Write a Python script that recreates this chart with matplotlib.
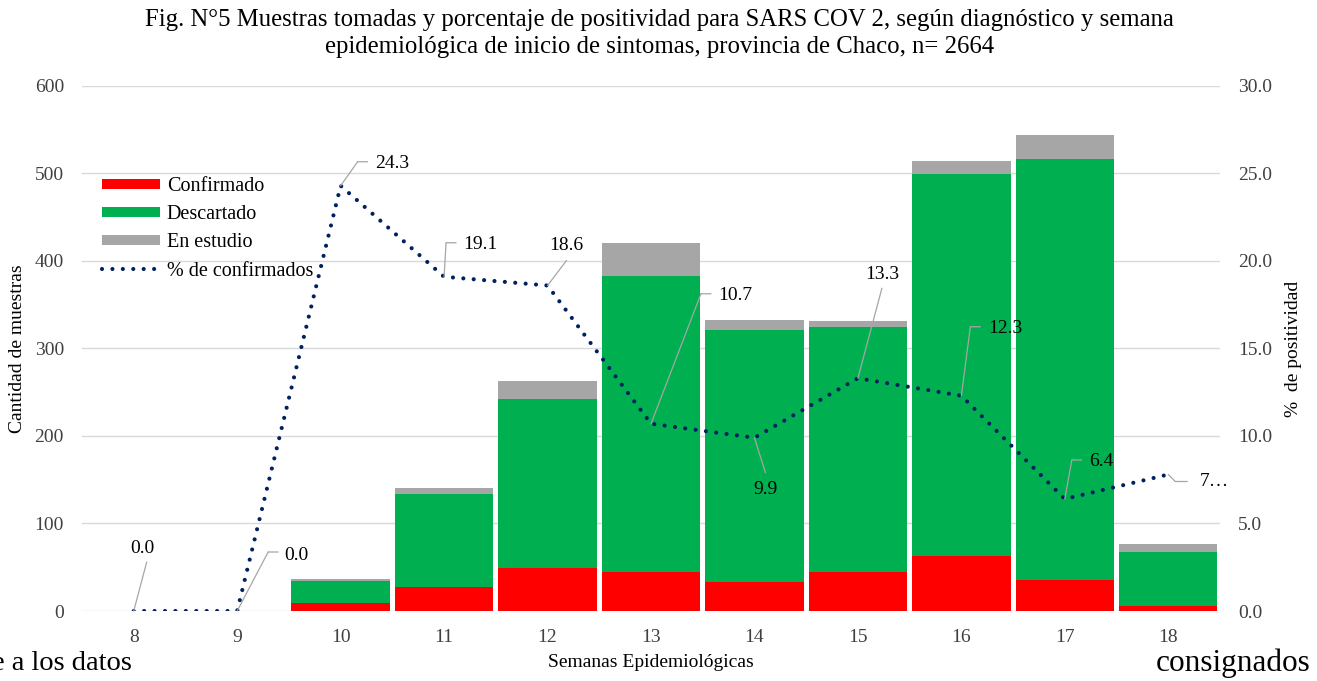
import matplotlib
matplotlib.use("Agg")
import matplotlib.pyplot as plt
from matplotlib.patches import Patch
from matplotlib.lines import Line2D
from matplotlib.transforms import offset_copy

plt.rcParams['font.family'] = ['Liberation Serif', 'DejaVu Serif']

# ---------------- data ----------------
weeks = [8, 9, 10, 11, 12, 13, 14, 15, 16, 17, 18]
week_labels = ["8", "9", "10", "11", "12", "13", "14", "15", "16", "17", "18"]
confirmado = [0, 0, 9, 27, 49, 45, 33, 44, 63, 35, 6]
descartado = [0, 0, 25, 107, 193, 338, 288, 280, 436, 482, 61]
en_estudio = [0, 0, 3, 7, 21, 38, 12, 7, 15, 27, 10]
pct_confirmados = [0.0, 0.0, 24.3, 19.1, 18.6, 10.7, 9.9, 13.3, 12.3, 6.4, 7.8]
pct_labels = ["0.0", "0.0", "24.3", "19.1", "18.6", "10.7", "9.9", "13.3", "12.3", "6.4", "7\u2026"]

left_ticks = [0, 100, 200, 300, 400, 500, 600]
right_ticks = [0, 5, 10, 15, 20, 25, 30]

# ---------------- styles ----------------
C_RED = "#FF0000"
C_GREEN = "#00B050"
C_GRAY = "#A6A6A6"
C_LINE = "#002060"
C_GRID = "#D9D9D9"
C_LEADER = "#A6A6A6"
FS = 14

# label layout (pixel offsets from the data point)
label_layout = [
    ('c', (13, 49), None, (9, 63)),
    ('h', (31, 59), (41, 59), (47, 56)),
    ('h', (17, 24), (27, 24), (34, 22)),
    ('h', (2, 34), (12, 34), (19, 32)),
    ('c', (19, 25), None, (19, 40)),
    ('h', (50, 130), (60, 130), (67, 128)),
    ('c', (11, -35), None, (11, -52)),
    ('c', (24, 90), None, (24, 104)),
    ('h', (9, 69), (19, 69), (27, 67)),
    ('h', (7, 39), (17, 39), (24, 37)),
    ('h', (7, -7), (19, -7), (31, -7)),
]

fig = plt.figure(figsize=(13.17, 6.81), dpi=100)
ax = fig.add_axes([0.06226, 0.10279, 0.86409, 0.77093])
ax2 = ax.twinx()

bw = 0.95
bottom2 = [c + d for c, d in zip(confirmado, descartado)]
ax.bar(weeks, confirmado, width=bw, color=C_RED, zorder=2, label="Confirmado")
ax.bar(weeks, descartado, width=bw, bottom=confirmado, color=C_GREEN, zorder=2, label="Descartado")
ax.bar(weeks, en_estudio, width=bw, bottom=bottom2, color=C_GRAY, zorder=2, label="En estudio")

ax.set_xlim(7.5, 18.5)
ax.set_ylim(0, 600)
ax.set_yticks(left_ticks)
ax.set_yticklabels([str(t) for t in left_ticks])
ax.set_xticks(weeks)
ax.set_xticklabels(week_labels)
ax.grid(axis='y', color=C_GRID, linewidth=1.0, zorder=0)
ax.set_axisbelow(True)
for s in ax.spines.values():
    s.set_visible(False)
for s in ax2.spines.values():
    s.set_visible(False)
ax.tick_params(axis='y', length=0, pad=13, labelsize=FS, colors='#404040')
ax.tick_params(axis='x', length=0, pad=13, labelsize=FS, colors='#404040')
ax.set_xlabel("Semanas Epidemiológicas", fontsize=FS, labelpad=6)
ax.set_ylabel("Cantidad de muestras", fontsize=FS)
ax.yaxis.set_label_coords(-0.0492, 0.5)

ax2.plot(weeks, pct_confirmados, color=C_LINE, linewidth=3.0,
         linestyle=(0, (0.001, 2.5)), dash_capstyle='round',
         solid_capstyle='round', zorder=5, label="% de confirmados")
ax2.set_ylim(0, 30)
ax2.set_yticks(right_ticks)
ax2.set_yticklabels([f"{t:.1f}" for t in right_ticks])
ax2.tick_params(axis='y', length=0, pad=13, labelsize=FS, colors='#404040')
ax2.set_ylabel("%  de positividad", fontsize=FS, rotation=90)
ax2.yaxis.set_label_coords(1.057, 0.5)

# data labels with leader lines
for w, v, txt, lay in zip(weeks, pct_confirmados, pct_labels, label_layout):
    kind, knee, hend, tpos = lay
    ax2.annotate('', xy=(w, v), xycoords='data', xytext=knee, textcoords='offset pixels',
                 arrowprops=dict(arrowstyle='-', color=C_LEADER, lw=0.9, shrinkA=0, shrinkB=0),
                 zorder=6, annotation_clip=False)
    if kind == 'h':
        tr = offset_copy(ax2.transData, fig=fig, x=hend[0], y=hend[1], units='dots')
        ax2.annotate('', xy=(w, v), xycoords=tr, xytext=(knee[0] - hend[0], 0),
                     textcoords='offset pixels',
                     arrowprops=dict(arrowstyle='-', color=C_LEADER, lw=0.9, shrinkA=0, shrinkB=0),
                     zorder=6, annotation_clip=False)
        ax2.annotate(txt, xy=(w, v), xycoords='data', xytext=tpos, textcoords='offset pixels',
                     ha='left', va='center', fontsize=FS, color='black', zorder=7,
                     annotation_clip=False)
    else:
        ax2.annotate(txt, xy=(w, v), xycoords='data', xytext=tpos, textcoords='offset pixels',
                     ha='center', va='center', fontsize=FS, color='black', zorder=7,
                     annotation_clip=False)

# legend
handles = [Patch(facecolor=C_RED, label="Confirmado"),
           Patch(facecolor=C_GREEN, label="Descartado"),
           Patch(facecolor=C_GRAY, label="En estudio"),
           Line2D([0], [0], color=C_LINE, linewidth=3.0, linestyle=(0, (0.001, 2.5)),
                  dash_capstyle='round', label="% de confirmados")]
ax2.legend(handles=handles, loc='upper left', bbox_to_anchor=(0.018, 0.826),
           frameon=False, fontsize=14.5, handlelength=2.85, handleheight=0.42,
           handletextpad=0.35, labelspacing=0.45, borderpad=0, borderaxespad=0)

# title
fig.text(0.501, 1 - 20 / 681, "Fig. N°5 Muestras tomadas y porcentaje de positividad para SARS COV 2, según diagnóstico y semana",
         ha='center', va='center', fontsize=17.8)
fig.text(0.501, 1 - 47 / 681, "epidemiológica de inicio de sintomas, provincia de Chaco, n= 2664",
         ha='center', va='center', fontsize=17.8)

# surrounding page text fragments
fig.text(-8 / 1317, 1 - 663 / 681, "e a los datos", ha='left', va='center', fontsize=20.5)
fig.text(0.9947, 1 - 663 / 681, "consignados", ha='right', va='center', fontsize=22.5)

fig.savefig("out.png", dpi=100)
